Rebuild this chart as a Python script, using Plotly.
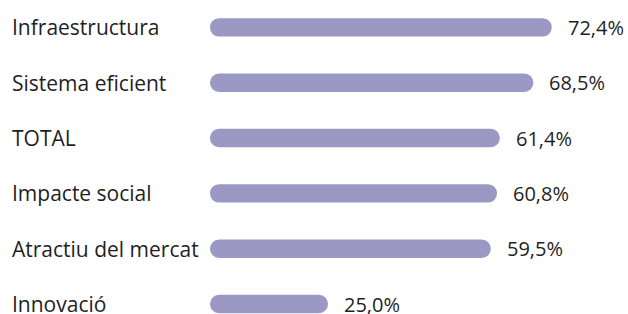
import plotly.graph_objects as go

categories = ["Infraestructura", "Sistema eficient", "TOTAL", "Impacte social", "Atractiu del mercat", "Innovació"]
values = [72.4, 68.5, 61.4, 60.8, 59.5, 25.0]
value_labels = [f"{v:.1f}".replace(".", ",") + "%" for v in values]

BAR_COLOR = "#9c98c4"
TEXT_COLOR = "#1f1f1f"
FONT = "Open Sans"
W, H = 628, 314
PLOT_LEFT = 210
PX_PER_UNIT = 4.72

fig = go.Figure()
# an explicit base makes plotly round both ends of each bar
fig.add_trace(go.Bar(
    y=categories, x=values, base=[0] * len(values),
    orientation="h", marker=dict(color=BAR_COLOR, line=dict(width=0)),
    width=0.332, hoverinfo="skip", showlegend=False))

annotations = []
for c, v, lab in zip(categories, values, value_labels):
    annotations.append(dict(x=11 / W, xref="paper", y=c, yref="y", text=c,
                            showarrow=False, xanchor="left", yanchor="middle", borderpad=0,
                            font=dict(family=FONT, size=21, color=TEXT_COLOR)))
    annotations.append(dict(x=v, xref="x", y=c, yref="y", text=lab,
                            showarrow=False, xanchor="left", yanchor="middle", xshift=15,
                            borderpad=0,
                            font=dict(family=FONT, size=20, color=TEXT_COLOR)))

fig.update_layout(
    width=W, height=H,
    margin=dict(l=0, r=0, t=0, b=0),
    paper_bgcolor="white", plot_bgcolor="white",
    barcornerradius=9,
    xaxis=dict(domain=[PLOT_LEFT / W, 1], range=[0, (W - PLOT_LEFT) / PX_PER_UNIT],
               visible=False, fixedrange=True),
    yaxis=dict(categoryorder="array", categoryarray=categories,
               range=[5.18, -0.495], visible=False, fixedrange=True),
    annotations=annotations,
    font=dict(family=FONT),
)

fig.write_html("out.html", config={"displayModeBar": False},
               post_script="document.body.style.margin='0';document.body.style.overflow='hidden';")
